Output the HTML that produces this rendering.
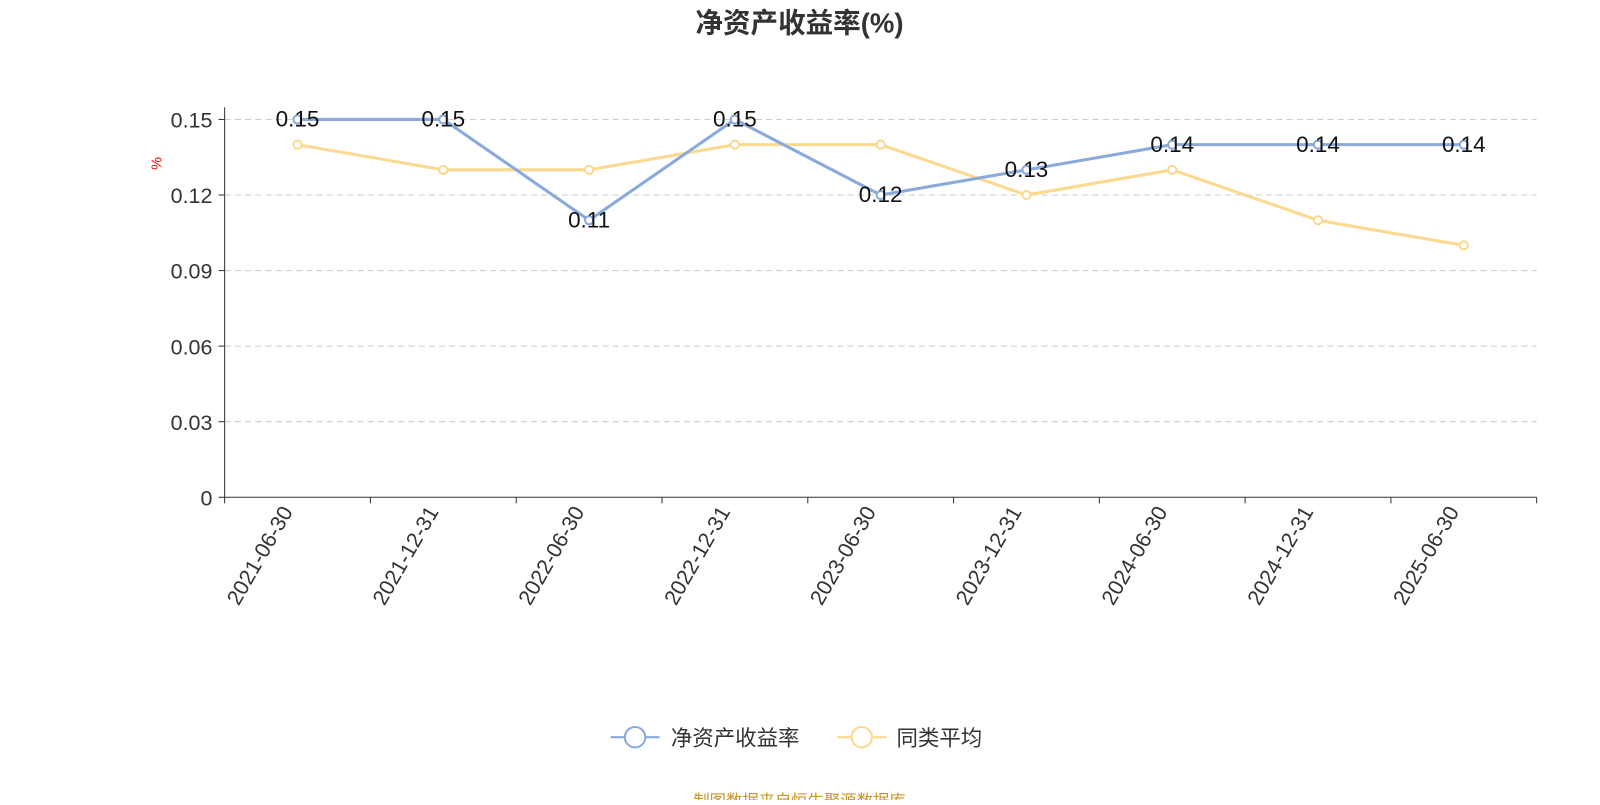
<!DOCTYPE html>
<html><head><meta charset="utf-8"><style>
body{margin:0;background:#fff;}
svg text{font-family:"Liberation Sans","Noto Sans CJK SC",sans-serif;}
</style></head><body>
<svg width="1600" height="800" viewBox="0 0 1567 783.5" xmlns="http://www.w3.org/2000/svg">
<text x="783" y="32" text-anchor="middle" font-size="27" font-weight="bold" fill="#333">净资产收益率(%)</text>
<text x="158" y="160" font-size="14" fill="red" transform="rotate(-90 158 160)" text-anchor="middle">%</text>
<g id="grid"></g><g id="axes"></g><g id="series"></g>
<g>
<g>
<line x1="598" y1="722" x2="646" y2="722" stroke="#8aaadb" stroke-width="2"/><circle cx="622" cy="722" r="10" fill="#fff" stroke="#8aaadb" stroke-width="2"/>
<text x="657" y="730" font-size="21" fill="#333">净资产收益率</text></g>
<g>
<line x1="820" y1="722" x2="868" y2="722" stroke="#fcd98e" stroke-width="2"/><circle cx="844" cy="722" r="10" fill="#fff" stroke="#fcd98e" stroke-width="2"/>
<text x="878" y="730" font-size="21" fill="#333">同类平均</text></g>
</g>
<text x="783" y="790" text-anchor="middle" font-size="16" fill="#c8952a">制图数据来自恒生聚源数据库</text>
</svg>
<script>
const categories=["2021-06-30","2021-12-31","2022-06-30","2022-12-31","2023-06-30","2023-12-31","2024-06-30","2024-12-31","2025-06-30"];
const roeValues=[0.15,0.15,0.11,0.15,0.12,0.13,0.14,0.14,0.14];
const peerValues=[0.14,0.13,0.13,0.14,0.14,0.12,0.13,0.11,0.10];
const yTicks=[0,0.03,0.06,0.09,0.12,0.15];
const yTickLabels=["0","0.03","0.06","0.09","0.12","0.15"];
const NS="http://www.w3.org/2000/svg";
const X0=220,X1=1505,Y0=487,Ymax=0.15,Ytop=117;
const bw=(X1-X0)/categories.length;
const xS=i=>X0+bw*(i+0.5);
const yS=v=>Y0-(v/Ymax)*(Y0-Ytop);
function mk(t,a,p){const e=document.createElementNS(NS,t);for(const k in a)e.setAttribute(k,a[k]);p.appendChild(e);return e;}
const grid=document.getElementById('grid'),axes=document.getElementById('axes'),ser=document.getElementById('series');
yTicks.forEach((v,i)=>{const y=yS(v);
 if(v>0){const g=mk('line',{x1:X0,x2:X1,y1:y,y2:y,stroke:'#ccc','stroke-dasharray':'6,4'},grid);
 
 }
 mk('line',{x1:X0-6,x2:X0,y1:y,y2:y,stroke:'#333'},axes);
 const t=mk('text',{x:X0-12,y:y+8,'text-anchor':'end','font-size':21,fill:'#333'},axes);t.textContent=yTickLabels[i];
 
 
});
mk('line',{x1:X0,x2:X0,y1:Ytop-12,y2:Y0,stroke:'#333'},axes);
mk('line',{x1:X0,x2:X1,y1:Y0,y2:Y0,stroke:'#333'},axes);
for(let i=0;i<=categories.length;i++){const x=X0+bw*i;mk('line',{x1:x,x2:x,y1:Y0,y2:Y0+6,stroke:'#333'},axes);}
categories.forEach((c,i)=>{const x=xS(i)-4,y=Y0+14;
 const t=mk('text',{x:x,y:y,'text-anchor':'end','font-size':21,fill:'#333',transform:`rotate(-60 ${x} ${y})`},axes);t.textContent=c;
 
 
});
function series(vals,color,name,labels){
 const p=mk('polyline',{points:vals.map((v,i)=>xS(i)+','+yS(v)).join(' '),fill:'none',stroke:color,'stroke-width':3},ser);
 
 
 vals.forEach((v,i)=>{const c=mk('circle',{cx:xS(i),cy:yS(v),r:4,fill:'#fff',stroke:color,'stroke-width':2},ser);
  
  
  if(labels){const t=mk('text',{x:xS(i),y:yS(v)+7,'text-anchor':'middle','font-size':22,fill:'#111'},ser);t.textContent=v.toFixed(2);
   
   }
 });
}
series(peerValues,'#fcd98e','peer-avg',false);
series(roeValues,'#8aaadb','roe',true);
</script>
</body></html>
